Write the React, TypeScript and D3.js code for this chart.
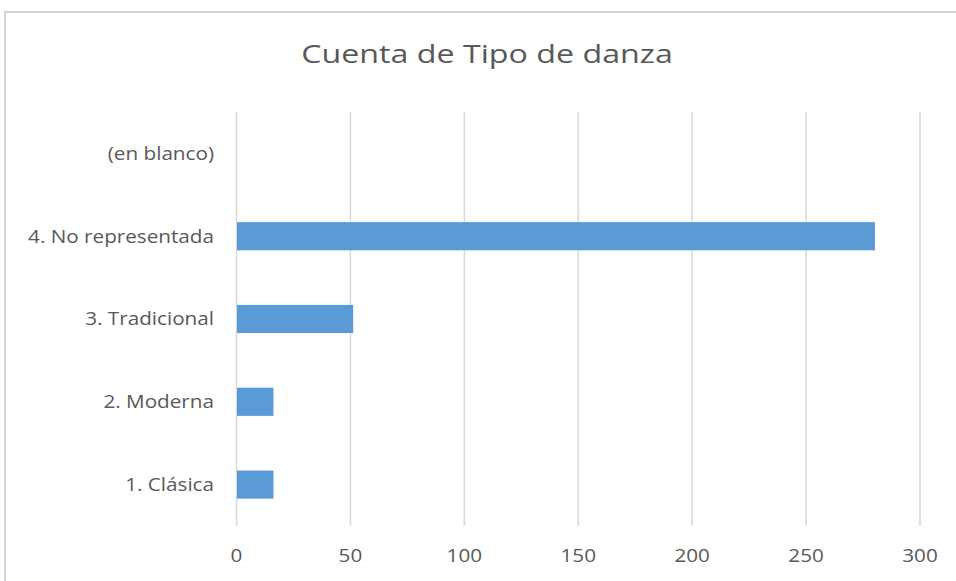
import React from "react";
import * as d3 from "d3";

const categories = ["(en blanco)", "4. No representada", "3. Tradicional", "2. Moderna", "1. Clásica"];
const values = [0, 280, 51, 16, 16];
const xTicks = [0, 50, 100, 150, 200, 250, 300];
const title = "Cuenta de Tipo de danza";

const W = 956;
const H = 581;
const FONT = "'Open Sans', sans-serif";
const TEXT = "#595959";

export default function App() {
  const x = d3.scaleLinear().domain([0, 300]).range([236.5, 920]);
  const y = d3.scaleBand<string>().domain(categories).range([112, 526]).paddingInner(0.66).paddingOuter(0.33);
  return (
    <svg width={W} height={H} style={{ position: "absolute", left: 0, top: 0, background: "#fff" }}>
      <rect x={5} y={12} width={W + 10} height={H + 10} fill="#fff" stroke="#d4d4d4" strokeWidth={2} />
      <text transform={`translate(487,63) scale(1.24,1)`} textAnchor="middle" fontFamily={FONT} fontSize={26} fill={TEXT}>{title}</text>
      {xTicks.map((t) => (
        <g key={t}>
          <line x1={x(t)} x2={x(t)} y1={112} y2={526} stroke="#d9d9d9" strokeWidth={1.5} />
          <text transform={`translate(${x(t)},562) scale(1.15,1)`} textAnchor="middle" fontFamily={FONT} fontSize={18} fill={TEXT}>{t}</text>
        </g>
      ))}
      {categories.map((c, i) => {
        const yc = (y(c) as number) + y.bandwidth() / 2;
        return (
          <g key={c}>
            {values[i] > 0 && (
              <rect x={x(0) + 0.5} y={y(c)} width={x(values[i]) - x(0)} height={y.bandwidth()} fill="#5b9bd5" />
            )}
            <text transform={`translate(214,${yc}) scale(1.15,1)`} dy="0.35em" textAnchor="end" fontFamily={FONT} fontSize={18} fill={TEXT}>{c}</text>
          </g>
        );
      })}
    </svg>
  );
}
